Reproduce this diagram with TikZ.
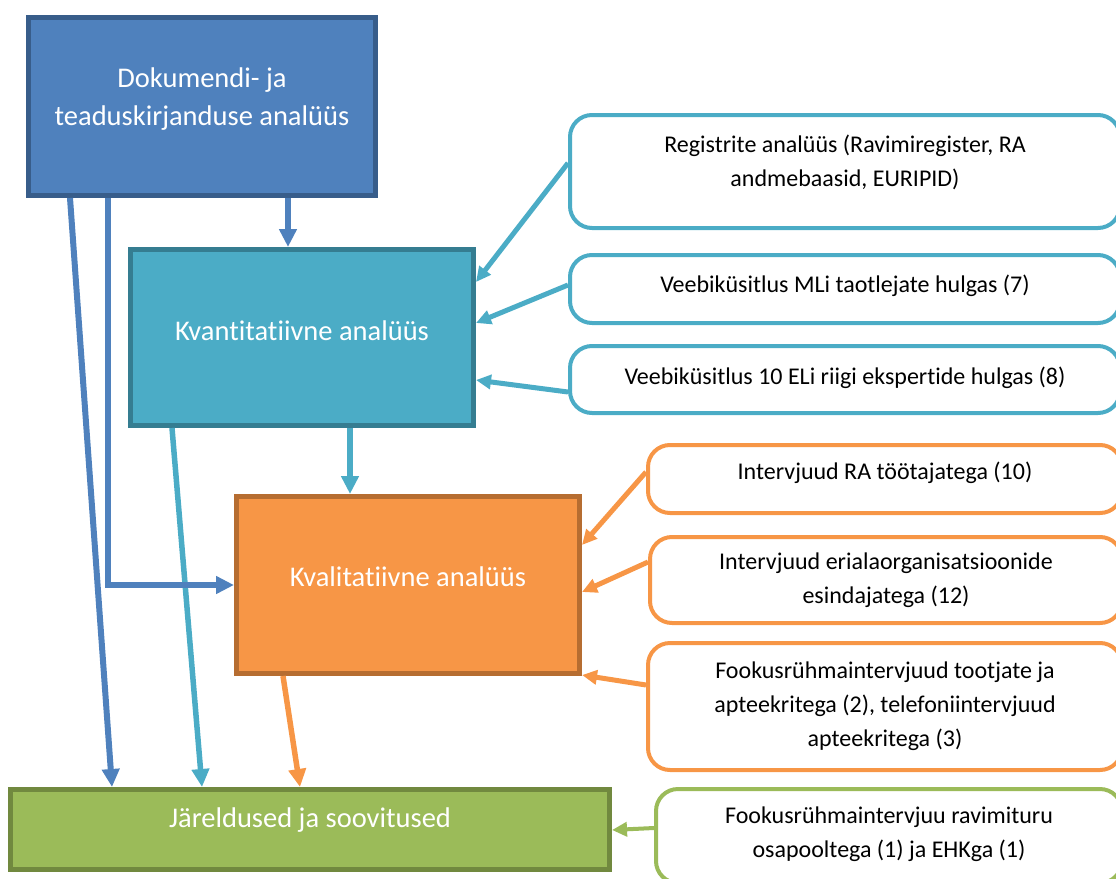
\documentclass[tikz,border=0pt]{standalone}
\usepackage{fontspec}
\setmainfont[Ligatures={NoCommon,NoContextual}]{Carlito}
\usetikzlibrary{arrows.meta}
\definecolor{bfill}{HTML}{4F81BD}
\definecolor{bline}{HTML}{385D8A}
\definecolor{cfill}{HTML}{4BACC6}
\definecolor{cline}{HTML}{357D91}
\definecolor{ofill}{HTML}{F79646}
\definecolor{oline}{HTML}{B66D31}
\definecolor{gfill}{HTML}{9BBB59}
\definecolor{gline}{HTML}{71893F}
\begin{document}
\begin{tikzpicture}[x=1pt,y=-1pt,
  mainbox/.style={draw, line width=5pt, inner sep=0pt},
  mainlbl/.style={text=white, font=\fontsize{28.5}{38}\selectfont, align=center, inner sep=0pt},
  sidebox/.style={draw, fill=white, line width=4pt, rounded corners=22pt, inner sep=0pt},
  sidelbl/.style={text=black, font=\fontsize{24}{34}\selectfont, align=center, inner sep=0pt},
  arr/.style={line width=#1, -{Triangle[length=18pt,width=17pt]}},
  sarr/.style={line width=#1, -{Triangle[length=15pt,width=14pt]}}
]
\useasboundingbox (0,0) rectangle (1116,878);
\clip (0,0) rectangle (1116,878);

% main boxes
\node[mainbox, fill=bfill, draw=bline, minimum width=347pt, minimum height=178pt,
  label={[mainlbl, yshift=7pt]center:Dokumendi- ja\\teaduskirjanduse analüüs}] (dok) at (202,106.5) {};
\node[mainbox, fill=cfill, draw=cline, minimum width=343pt, minimum height=176pt,
  label={[mainlbl, yshift=7pt]center:Kvantitatiivne analüüs}] (kvant) at (302,337.5) {};
\node[mainbox, fill=ofill, draw=oline, minimum width=343pt, minimum height=177pt,
  label={[mainlbl, yshift=8pt]center:Kvalitatiivne analüüs}] (kval) at (408,585) {};
\node[mainbox, fill=gfill, draw=gline, minimum width=599pt, minimum height=80pt,
  label={[mainlbl, yshift=9pt]center:Järeldused ja soovitused}] (jar) at (310,829.5) {};

% side boxes
\node[sidebox, draw=cfill, minimum width=550pt, minimum height=113pt,
  label={[sidelbl, yshift=9pt]center:Registrite analüüs (Ravimiregister, RA\\andmebaasid, EURIPID)}] (r1) at (845,171.5) {};
\node[sidebox, draw=cfill, minimum width=550pt, minimum height=68pt,
  label={[sidelbl, yshift=3pt]center:Veebiküsitlus MLi taotlejate hulgas (7)}] (r2) at (845,289) {};
\node[sidebox, draw=cfill, minimum width=550pt, minimum height=67pt,
  label={[sidelbl, yshift=2pt]center:Veebiküsitlus 10 ELi riigi ekspertide hulgas (8)}] (r3) at (845,379.5) {};
\node[sidebox, draw=ofill, minimum width=474pt, minimum height=68pt,
  label={[sidelbl, yshift=6pt]center:Intervjuud RA töötajatega (10)}] (o1) at (885,479) {};
\node[sidebox, draw=ofill, minimum width=472pt, minimum height=86pt,
  label={[sidelbl]center:Intervjuud erialaorganisatsioonide\\esindajatega (12)}] (o2) at (886,580) {};
\node[sidebox, draw=ofill, minimum width=474pt, minimum height=127pt,
  label={[sidelbl]center:Fookusrühmaintervjuud tootjate ja\\apteekritega (2), telefoniintervjuud\\apteekritega (3)}] (o3) at (885,706.5) {};
\node[sidebox, draw=gfill, minimum width=466pt, minimum height=94pt,
  label={[sidelbl, yshift=2pt]center:Fookusrühmaintervjuu ravimituru\\osapooltega (1) ja EHKga (1)}] (g1) at (889,836) {};

% connectors
\draw[arr=5.5pt, cfill] (kvant.south -| 172,0) -- (jar.north -| 202,0);
\draw[arr=5.5pt, cfill] (kvant.south -| 350,0) -- (kval.north -| 350,0);
\draw[arr=6pt, bfill] (dok.south -| 288,0) -- (kvant.north -| 288,0);
\draw[arr=6pt, bfill] (dok.south -| 70,0) -- (jar.north -| 112,0);
\draw[arr=6pt, bfill] (dok.south -| 108,0) |- (kval.west |- 0,585);
\draw[arr=5.5pt, ofill] (kval.south -| 283,0) -- (jar.north -| 300,0);

\draw[sarr=5pt, cfill] (r1.west |- 0,163) -- (kvant.east |- 0,282);
\draw[sarr=5pt, cfill] (r2.west |- 0,285) -- (kvant.east |- 0,323);
\draw[sarr=5pt, cfill] (r3.west |- 0,392) -- (kvant.east |- 0,380);
\draw[sarr=5pt, ofill] (o1.west |- 0,472) -- (kval.east |- 0,545);
\draw[sarr=5pt, ofill] (o2.west |- 0,562) -- (kval.east |- 0,592);
\draw[sarr=5pt, ofill] (o3.west |- 0,685) -- (kval.east |- 0,675);
\draw[sarr=4pt, gfill] (g1.west |- 0,828) -- (jar.east |- 0,830);
\end{tikzpicture}
\end{document}
